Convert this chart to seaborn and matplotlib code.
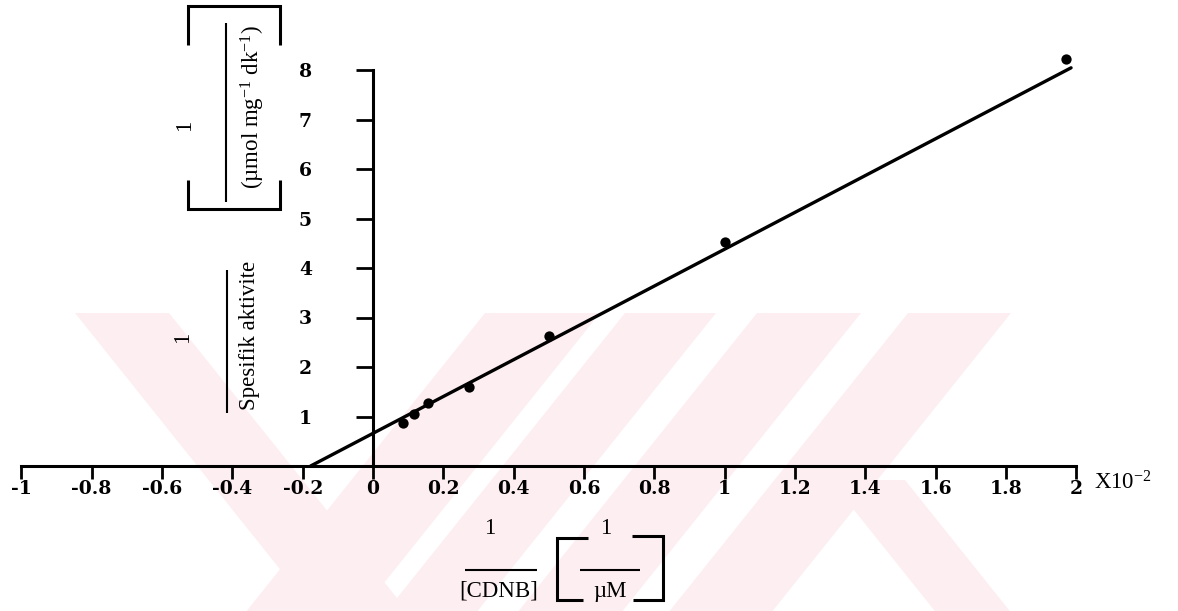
import numpy as np
import pandas as pd
import matplotlib
matplotlib.use("Agg")
import matplotlib.pyplot as plt
import seaborn as sns
from matplotlib.lines import Line2D
from matplotlib.patches import Polygon

# ---------------- data ----------------
inv_cdnb = [0.085, 0.117, 0.156, 0.273, 0.50, 1.00, 1.97]      # 1/[CDNB]  (x10^-2, 1/µM)
inv_activity = [0.87, 1.05, 1.27, 1.60, 2.63, 4.53, 8.22]      # 1/specific activity
fit_slope = 3.72
fit_intercept = 0.66
fit_x_end = 1.985

xtick_values = [-1, -0.8, -0.6, -0.4, -0.2, 0, 0.2, 0.4, 0.6, 0.8,
                1, 1.2, 1.4, 1.6, 1.8, 2]
xtick_labels = ["-1", "-0.8", "-0.6", "-0.4", "-0.2", "0", "0.2", "0.4", "0.6",
                "0.8", "1", "1.2", "1.4", "1.6", "1.8", "2"]
ytick_values = [1, 2, 3, 4, 5, 6, 7, 8]
ytick_labels = ["1", "2", "3", "4", "5", "6", "7", "8"]

# ---------------- style ----------------
sns.set_theme(style="white")
plt.rcParams['font.family'] = ['Liberation Serif', 'DejaVu Serif']
plt.rcParams['mathtext.fontset'] = 'custom'
plt.rcParams['mathtext.rm'] = 'Liberation Serif'
plt.rcParams['mathtext.it'] = 'Liberation Serif:italic'
plt.rcParams['mathtext.bf'] = 'Liberation Serif:bold'
plt.rcParams['text.color'] = 'black'
plt.rcParams['xtick.color'] = 'black'
plt.rcParams['ytick.color'] = 'black'

W, H = 1178, 611
fig = plt.figure(figsize=(W / 100, H / 100), dpi=100)
fig.patch.set_facecolor("white")


def fx(x):
    return x / W


def fy(y):
    return 1 - y / H


# ---------------- faint watermark ----------------
wm_color = "#fdeef1"
Y_TOP, Y_BOT = 313, 611


def band(xl, xr, direction, ytop=Y_TOP, ybot=Y_BOT, k=0.8):
    sh = direction * k * (ybot - ytop)
    pts = [(xl, ytop), (xr, ytop), (xr + sh, ybot), (xl + sh, ybot)]
    return [(fx(a), fy(b)) for a, b in pts]


for xl, xr, d, yt in [(75, 169, +1, Y_TOP), (485, 600, -1, Y_TOP), (625, 716, -1, Y_TOP),
                      (757, 861, -1, Y_TOP), (908, 1011, -1, Y_TOP), (830, 905, +1, 480)]:
    fig.add_artist(Polygon(band(xl, xr, d, ytop=yt), closed=True, transform=fig.transFigure,
                           facecolor=wm_color, edgecolor="none", zorder=-5))

# ---------------- axes ----------------
px_x = 351.67   # pixels per x unit
px_y = 49.5     # pixels per y unit
x0_px, y0_px = 373, 466
xlim = (-1.08, 2.08)
ylim = (-0.4, 8.6)
left = (x0_px + xlim[0] * px_x) / W
width = (xlim[1] - xlim[0]) * px_x / W
bottom = (H - y0_px + ylim[0] * px_y) / H
height = (ylim[1] - ylim[0]) * px_y / H
ax = fig.add_axes([left, bottom, width, height])
ax.set_xlim(xlim)
ax.set_ylim(ylim)
ax.patch.set_alpha(0)

for side in ["top", "right"]:
    ax.spines[side].set_visible(False)
ax.spines["left"].set_position(("data", 0))
ax.spines["left"].set_bounds(0, 8)
ax.spines["bottom"].set_position(("data", 0))
ax.spines["bottom"].set_bounds(-1, 2)
for side in ["left", "bottom"]:
    ax.spines[side].set_color("black")
    ax.spines[side].set_linewidth(2.2)

ax.set_xticks(xtick_values, xtick_labels)
ax.set_yticks(ytick_values, ytick_labels)
ax.tick_params(axis="x", bottom=True, direction="out", length=9, width=2,
               pad=1, labelsize=13.5, colors="black")
ax.tick_params(axis="y", left=True, direction="out", length=12, width=2,
               pad=32, labelsize=13.5, colors="black")
for lab in ax.get_xticklabels() + ax.get_yticklabels():
    lab.set_fontfamily("DejaVu Serif")
    lab.set_fontweight("bold")

# fitted line (Lineweaver-Burk) from x-intercept to the end
x_start = -fit_intercept / fit_slope
line_df = pd.DataFrame({"x": [x_start, fit_x_end]})
line_df["y"] = fit_slope * line_df["x"] + fit_intercept
sns.lineplot(data=line_df, x="x", y="y", color="black", linewidth=2.4, ax=ax)

pts = pd.DataFrame({"x": inv_cdnb, "y": inv_activity})
sns.scatterplot(data=pts, x="x", y="y", color="black", s=55, edgecolor="black",
                linewidth=0, ax=ax, zorder=3)
ax.set_xlabel("")
ax.set_ylabel("")

# ---------------- axis label constructions ----------------
LW = 2.2


def polyline(xs, ys, lw=LW):
    fig.add_artist(Line2D([fx(v) for v in xs], [fy(v) for v in ys],
                          transform=fig.transFigure, color="black", lw=lw,
                          solid_capstyle="butt", solid_joinstyle="miter"))


FS = 16.5
# y label:   1 / (umol mg-1 dk-1)   in brackets, and  1 / Spesifik aktivite
polyline([188, 188, 280, 280], [45, 6, 6, 45])
polyline([188, 188, 280, 280], [180, 209, 209, 180])
polyline([226, 226], [23, 202], lw=1.5)
fig.text(fx(185), fy(125), "1", rotation=90, ha="center", va="center", fontsize=FS)
fig.text(fx(253), fy(107), "(µmol mg$^{-1}$ dk$^{-1}$)", rotation=90,
         ha="center", va="center", fontsize=FS)
polyline([227, 227], [270, 413], lw=1.5)
fig.text(fx(183), fy(337), "1", rotation=90, ha="center", va="center", fontsize=FS)
fig.text(fx(250), fy(335), "Spesifik aktivite", rotation=90, ha="center",
         va="center", fontsize=FS)

# x label:  1/[CDNB]  [ 1 / uM ]
fig.text(fx(490), fy(528), "1", ha="center", va="center", fontsize=FS)
polyline([465, 537], [570, 570], lw=1.5)
fig.text(fx(499), fy(591), "[CDNB]", ha="center", va="center", fontsize=FS)
polyline([588, 557, 557, 583], [538, 538, 600, 600])
fig.text(fx(606), fy(528), "1", ha="center", va="center", fontsize=FS)
polyline([580, 640], [570, 570], lw=1.5)
fig.text(fx(610), fy(592), "µM", ha="center", va="center", fontsize=FS)
polyline([632, 663, 663, 633], [536, 536, 600, 600])

# axis multiplier
fig.text(fx(1094), fy(490), "X10$^{-2}$", ha="left", va="baseline", fontsize=FS)

fig.savefig("out.png", dpi=100, facecolor="white")
